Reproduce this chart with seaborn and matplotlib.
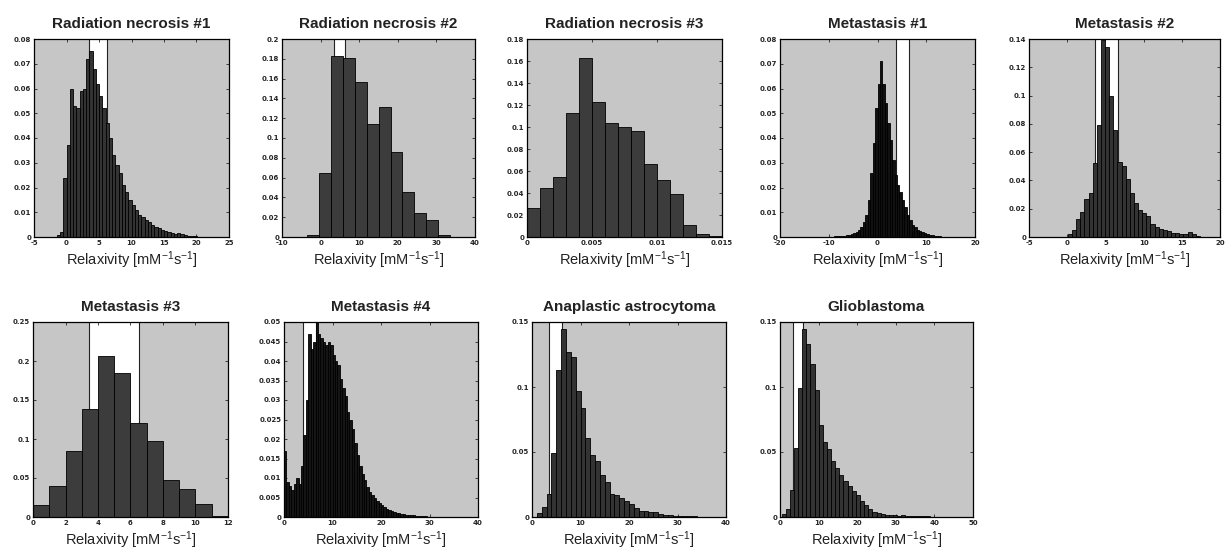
import numpy as np
import pandas as pd
import matplotlib as mpl
import seaborn as sns
from matplotlib import pyplot as plt
from matplotlib.ticker import FuncFormatter

sns.set_style('ticks')
mpl.rcParams['font.family'] = ['Liberation Sans', 'DejaVu Sans']
mpl.rcParams['mathtext.fontset'] = 'custom'
mpl.rcParams['mathtext.rm'] = 'Liberation Sans'
mpl.rcParams['mathtext.it'] = 'Liberation Sans:italic'

# --- data: bin start, bin width, bar heights, white band ---
titles = ['Radiation necrosis #1', 'Radiation necrosis #2', 'Radiation necrosis #3',
          'Metastasis #1', 'Metastasis #2', 'Metastasis #3', 'Metastasis #4',
          'Anaplastic astrocytoma', 'Glioblastoma']

rn1_start, rn1_width = -1.5, 0.5
rn1_heights = [0.001, 0.002, 0.024, 0.037, 0.060, 0.053, 0.052, 0.059, 0.060, 0.072,
               0.075, 0.068, 0.062, 0.057, 0.052, 0.046, 0.040, 0.033, 0.029, 0.026,
               0.021, 0.018, 0.015, 0.013, 0.011, 0.009, 0.008, 0.007, 0.006, 0.005,
               0.004, 0.0035, 0.003, 0.0025, 0.002, 0.0015, 0.0012, 0.0015, 0.0012,
               0.0008, 0.0005, 0.0004, 0.0003]

rn2_start, rn2_width = -3.4, 3.075
rn2_heights = [0.002, 0.065, 0.183, 0.181, 0.157, 0.114, 0.131, 0.086, 0.045,
               0.024, 0.017, 0.002]

rn3_start, rn3_width = 0.0, 0.001
rn3_heights = [0.026, 0.045, 0.055, 0.113, 0.163, 0.123, 0.104, 0.100, 0.096,
               0.066, 0.052, 0.039, 0.011, 0.003, 0.0005]

me1_start, me1_width = -10.0, 0.5
me1_heights = [0.0002, 0.0002, 0.0003, 0.0003, 0.0004, 0.0005, 0.0006, 0.0008,
               0.001, 0.0013, 0.0017, 0.0022, 0.003, 0.004, 0.006, 0.009, 0.015,
               0.026, 0.038, 0.052, 0.062, 0.071, 0.062, 0.054, 0.046, 0.039,
               0.031, 0.025, 0.021, 0.018, 0.015, 0.012, 0.009, 0.007, 0.005,
               0.004, 0.003, 0.0025, 0.002, 0.0015, 0.0012, 0.001, 0.0008,
               0.0006, 0.0004, 0.0003, 0.0002]

me2_start, me2_width = 0.1, 0.54
me2_heights = [0.002, 0.005, 0.0124, 0.018, 0.027, 0.031, 0.052, 0.079, 0.139,
               0.134, 0.100, 0.076, 0.053, 0.050, 0.041, 0.031, 0.024, 0.019,
               0.017, 0.015, 0.009, 0.007, 0.0057, 0.0048, 0.004, 0.003, 0.003,
               0.0024, 0.002, 0.0033, 0.002, 0.001]

me3_start, me3_width = 0.0, 1.0
me3_heights = [0.016, 0.040, 0.085, 0.138, 0.207, 0.184, 0.121, 0.097, 0.047,
               0.036, 0.017, 0.001]

me4_start, me4_width = 0.0, 0.5
me4_heights = [0.017, 0.009, 0.008, 0.007, 0.0085, 0.010, 0.0085, 0.013, 0.021,
               0.030, 0.047, 0.043, 0.045, 0.050, 0.047, 0.046, 0.045, 0.044,
               0.045, 0.044, 0.0415, 0.040, 0.039, 0.0355, 0.033, 0.031, 0.027,
               0.025, 0.0225, 0.019, 0.016, 0.013, 0.011, 0.0095, 0.0078, 0.0065,
               0.0056, 0.0048, 0.0041, 0.0036, 0.003, 0.0025, 0.0021, 0.0018,
               0.0015, 0.0013, 0.0011, 0.0009, 0.0008, 0.0007, 0.0006, 0.0005,
               0.0004, 0.0004, 0.0003, 0.0003, 0.0002, 0.0002, 0.0002, 0.0001,
               0.0001, 0.0001, 0.0001, 0.0001, 0.0001, 0.0001]

aa_start, aa_width = 1.0, 1.0
aa_heights = [0.0033, 0.008, 0.018, 0.049, 0.113, 0.145, 0.127, 0.123, 0.097,
              0.084, 0.061, 0.048, 0.043, 0.032, 0.027, 0.018, 0.017, 0.0145,
              0.012, 0.010, 0.007, 0.005, 0.0045, 0.0035, 0.004, 0.0022, 0.0018,
              0.0012, 0.001, 0.0008, 0.0006, 0.0005, 0.0005]

gb_start, gb_width = 0.4, 1.07
gb_heights = [0.002, 0.006, 0.021, 0.053, 0.099, 0.145, 0.133, 0.118, 0.098,
              0.071, 0.058, 0.052, 0.043, 0.038, 0.032, 0.028, 0.024, 0.020,
              0.017, 0.012, 0.009, 0.006, 0.004, 0.003, 0.002, 0.0015, 0.0018,
              0.0012, 0.001, 0.0013, 0.0008, 0.0006, 0.0005, 0.0005, 0.0004,
              0.0004, 0.0003, 0.0003, 0.0003, 0.0002, 0.0002, 0.0002, 0.0001,
              0.0001]

starts = [rn1_start, rn2_start, rn3_start, me1_start, me2_start, me3_start,
          me4_start, aa_start, gb_start]
widths = [rn1_width, rn2_width, rn3_width, me1_width, me2_width, me3_width,
          me4_width, aa_width, gb_width]
heights = [rn1_heights, rn2_heights, rn3_heights, me1_heights, me2_heights,
           me3_heights, me4_heights, aa_heights, gb_heights]

# white "normal" band (None = no band)
bands = [(3.4, 6.3), (3.4, 6.4), None, (3.7, 6.5), (3.6, 6.7), (3.45, 6.5),
         (3.9, 6.5), (3.6, 6.2), (3.4, 6.0)]

xlims = [(-5, 25), (-10, 40), (0, 0.015), (-20, 20), (-5, 20), (0, 12),
         (0, 40), (0, 40), (0, 50)]
xticks = [[-5, 0, 5, 10, 15, 20, 25], [-10, 0, 10, 20, 30, 40],
          [0, 0.005, 0.01, 0.015], [-20, -10, 0, 10, 20],
          [-5, 0, 5, 10, 15, 20], [0, 2, 4, 6, 8, 10, 12],
          [0, 10, 20, 30, 40], [0, 10, 20, 30, 40], [0, 10, 20, 30, 40, 50]]
ylims = [0.08, 0.2, 0.18, 0.08, 0.14, 0.25, 0.05, 0.15, 0.15]
ysteps = [0.01, 0.02, 0.02, 0.01, 0.02, 0.05, 0.005, 0.05, 0.05]

# styling: bar fill per panel (fine-binned panels look almost black)
fills = ['#333333', '#3c3c3c', '#3c3c3c', '#111111', '#333333', '#3c3c3c',
         '#151515', '#333333', '#333333']

# axes boxes in pixels: left, top, right, bottom
boxes = [(34, 39, 229, 237), (282, 39, 475, 237), (527, 39, 722, 237),
         (780, 39, 975, 237), (1029, 39, 1220, 237),
         (33, 322, 228, 517), (284, 322, 478, 517), (532, 322, 726, 517),
         (780, 322, 973, 517)]

W, H = 1232, 553
fig = plt.figure(figsize=(W / 100, H / 100), dpi=100)
fmt = FuncFormatter(lambda v, p: f'{v:g}')

for i in range(9):
    l, t, r, b = boxes[i]
    ax = fig.add_axes([l / W, 1 - b / H, (r - l) / W, (b - t) / H])
    ax.set_facecolor('#c6c6c6')
    n = len(heights[i])
    lo_edge = starts[i]
    hi_edge = starts[i] + widths[i] * n
    df = pd.DataFrame({
        'center': [lo_edge + widths[i] * (k + 0.5) for k in range(n)],
        'height': heights[i],
    })
    if bands[i] is not None:
        lo, hi = bands[i]
        ax.axvspan(lo, hi, color='white', zorder=0.5, lw=0)
        ax.axvline(lo, color='#222222', lw=0.8, zorder=0.6)
        ax.axvline(hi, color='#222222', lw=0.8, zorder=0.6)
    sns.histplot(data=df, x='center', weights='height', binwidth=widths[i],
                 binrange=(lo_edge, hi_edge), ax=ax, stat='count',
                 color=fills[i], edgecolor='black', linewidth=0.6, alpha=1,
                 zorder=2)
    ax.set_xlim(*xlims[i])
    ax.set_ylim(0, ylims[i])
    ax.set_xticks(xticks[i])
    ax.set_yticks(np.arange(0, ylims[i] + 1e-9, ysteps[i]))
    ax.xaxis.set_major_formatter(fmt)
    ax.yaxis.set_major_formatter(fmt)
    ax.tick_params(direction='in', length=2.5, width=0.6, top=True, right=True,
                   labelsize=5, pad=2)
    for lab in ax.get_xticklabels() + ax.get_yticklabels():
        lab.set_fontweight('bold')
        lab.set_family('DejaVu Sans')
    for sp in ax.spines.values():
        sp.set_color('black')
        sp.set_linewidth(0.9)
    ax.set_ylabel('')
    ax.set_xlabel(r'Relaxivity [mM$^{-1}$s$^{-1}$]', fontsize=10.5,
                  labelpad=2.5, color='#222222')
    ax.set_title(titles[i], fontsize=11, fontweight='bold', pad=8,
                 color='#222222')

fig.savefig('out.png', dpi=100, facecolor='white')
